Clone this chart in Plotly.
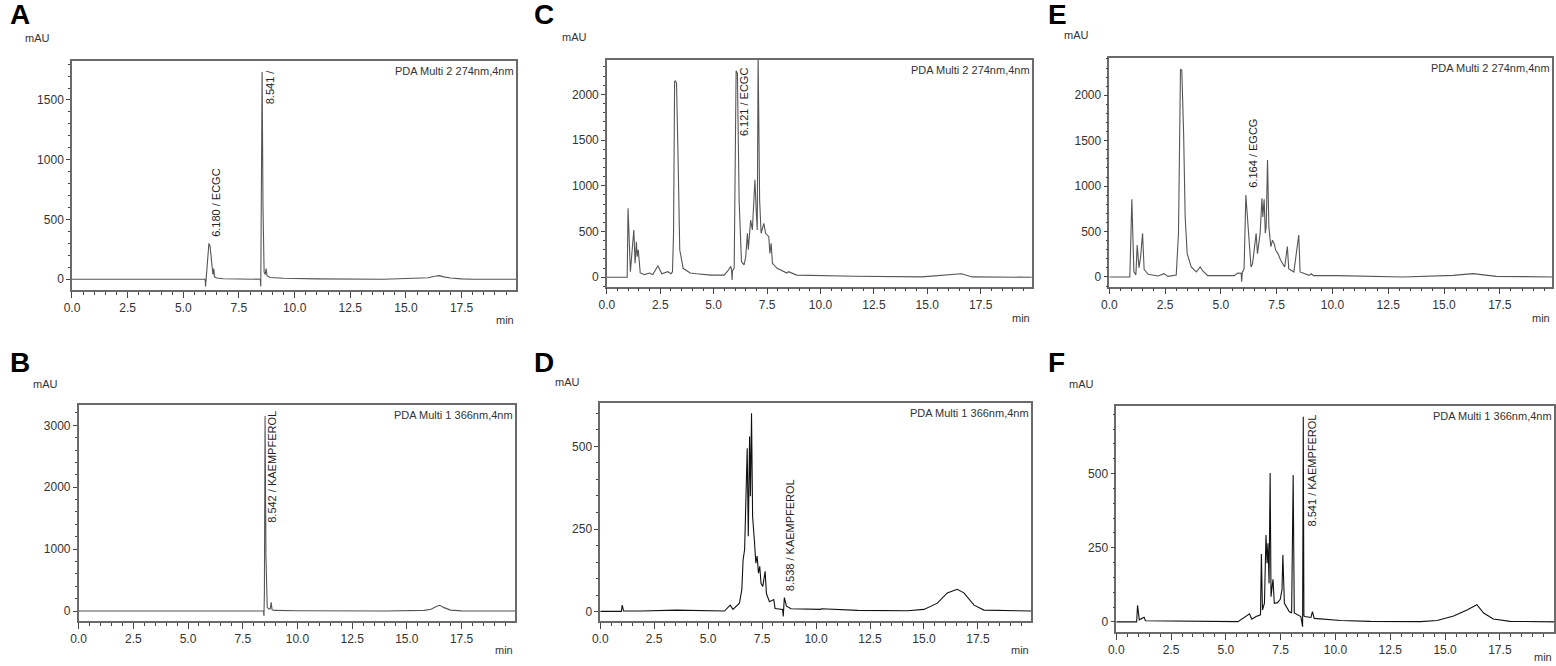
import plotly.graph_objects as go

# ── Chromatogram data (retention time in min, absorbance in mAU) ─────────────

A_TIME = [0, 0.9, 1.0, 1.1, 1.2, 1.3, 5.9, 5.98, 6.0, 6.02,
          6.08, 6.15, 6.2, 6.27, 6.33, 6.37, 6.4, 6.5, 6.8, 7.5,
          8.4, 8.46, 8.48, 8.5, 8.54, 8.58, 8.63, 8.68, 8.72, 8.76,
          8.9, 9.5, 11, 14, 15.5, 16.0, 16.3, 16.5, 16.7, 17.0,
          17.5, 18, 20]
A_MAU = [0, 0, 4, -2, 3, 0, 0, 0, -60, 0,
         120, 300, 280, 150, 40, 90, 20, 10, 4, 2,
         0, 0, -60, 600, 1735, 600, 60, 40, 90, 30,
         15, 8, 3, 0, 5, 12, 25, 30, 20, 10,
         3, 0, 0]

B_TIME = [0, 1.0, 1.1, 1.2, 8.3, 8.45, 8.47, 8.49, 8.52, 8.56,
          8.62, 8.7, 8.76, 8.8, 8.84, 8.95, 10, 14, 15.8, 16.1,
          16.35, 16.5, 16.7, 17.0, 17.5, 20]
B_MAU = [0, 0, 6, 0, 0, 0, -80, 300, 3150, 900,
         60, 30, 40, 140, 20, 10, 5, 0, 10, 30,
         75, 92, 55, 15, 2, 0]

C_TIME = [0, 0.95, 0.99, 1.1, 1.26, 1.32, 1.38, 1.42, 1.47, 1.56,
          1.76, 1.99, 2.15, 2.39, 2.57, 2.85, 3.0, 3.07, 3.12, 3.17,
          3.21, 3.26, 3.34, 3.41, 3.57, 3.9, 4.2, 4.87, 5.49, 5.68,
          5.8, 5.84, 5.86, 5.88, 5.96, 6.05, 6.11, 6.19, 6.3, 6.42,
          6.5, 6.58, 6.62, 6.73, 6.81, 6.89, 6.93, 6.99, 7.04, 7.08,
          7.15, 7.22, 7.35, 7.43, 7.58, 7.63, 7.69, 7.75, 7.97, 8.43,
          8.5, 8.89, 10.13, 11.63, 14.74, 15.5, 16.35, 16.6, 17.1, 20]
C_MAU = [0, 0, 754, 61, 517, 153, 389, 224, 301, 47,
         29, 47, 29, 127, 38, 61, 38, 61, 481, 2138,
         2150, 2120, 1210, 301, 98, 47, 38, 24, 24, 75,
         120, 70, -30, 70, 100, 2258, 2228, 845, 171, 135,
         224, 481, 301, 626, 517, 955, 1065, 736, 517, 2420,
         845, 481, 590, 481, 444, 262, 371, 153, 98, 47,
         61, 24, 18, 11, 4, 18, 38, 38, 4, 0]

D_TIME = [0, 0.98, 1.02, 1.08, 1.91, 3.53, 5.76, 6.02, 6.15, 6.45,
          6.56, 6.62, 6.69, 6.75, 6.81, 6.86, 6.92, 6.96, 7.01, 7.06,
          7.1, 7.15, 7.21, 7.27, 7.33, 7.39, 7.45, 7.53, 7.64, 7.7,
          7.84, 8.04, 8.1, 8.45, 8.48, 8.53, 8.63, 8.84, 10.2, 10.25,
          11.92, 14.23, 15.0, 15.62, 16.08, 16.54, 16.85, 17.32, 17.78, 20]
D_MAU = [1, 1, 20, 2, 2, 5, 2, 20, 7, 26,
         67, 157, 188, 369, 494, 228, 530, 349, 600, 288,
         258, 208, 147, 168, 117, 137, 86, 76, 122, 55,
         30, 37, 10, 7, -14, 43, 17, 9, 7, 9,
         4, 3, 7, 26, 57, 68, 57, 20, 5, 2]

E_TIME = [0, 0.92, 1.01, 1.1, 1.19, 1.25, 1.33, 1.4, 1.49, 1.56,
          1.74, 2.19, 2.45, 2.63, 3.0, 3.1, 3.19, 3.25, 3.33, 3.4,
          3.49, 3.67, 3.9, 4.07, 4.19, 4.41, 5.6, 5.75, 5.91, 5.93,
          5.96, 6.04, 6.12, 6.23, 6.35, 6.42, 6.52, 6.58, 6.64, 6.76,
          6.84, 6.88, 6.94, 6.99, 7.03, 7.09, 7.15, 7.24, 7.31, 7.39,
          7.46, 7.56, 7.68, 7.86, 7.98, 8.04, 8.27, 8.49, 8.55, 8.72,
          8.95, 9.05, 9.15, 10.2, 13.18, 15.41, 16.3, 17.34, 20]
E_MAU = [0, 0, 855, 59, 22, 352, 103, 213, 481, 84,
         29, 11, 37, 7, 22, 481, 2287, 2272, 1578, 661,
         257, 110, 55, 110, 66, 15, 15, 44, 40, -51,
         50, 90, 903, 481, 110, 147, 404, 481, 257, 481,
         866, 661, 855, 481, 554, 1288, 554, 334, 404, 367,
         294, 257, 184, 110, 334, 92, 55, 462, 55, 37,
         18, 35, 15, 15, 0, 18, 37, 7, 0]

F_TIME = [0, 0.93, 0.97, 1.05, 1.27, 1.33, 5.55, 5.93, 6.08, 6.18,
          6.38, 6.58, 6.62, 6.67, 6.76, 6.83, 6.88, 6.92, 6.97, 7.02,
          7.06, 7.11, 7.15, 7.21, 7.36, 7.48, 7.56, 7.6, 7.67, 7.89,
          8.0, 8.07, 8.12, 8.42, 8.5, 8.53, 8.56, 8.6, 8.88, 8.95,
          9.03, 10.24, 11.6, 13.88, 14.64, 15.39, 16.0, 16.45, 16.76, 17.2,
          17.97, 20.2]
F_MAU = [0, 0, 56, 7, 16, 4, 1, 18, 27, 9,
         18, 24, 229, 40, 63, 293, 198, 265, 130, 502,
         85, 119, 144, 63, 65, 76, 108, 226, 63, 35,
         30, 495, 30, 18, -16, 692, 20, 18, 15, 35,
         12, 5, 2, 1, 5, 20, 40, 58, 30, 10,
         2, 0]

# peak labels: (retention time, mAU, text)
A_PEAKS = [(6.49, 643, "6.180 / ECGC"), (8.88, 1612, "8.541 /")]
B_PEAKS = [(8.84, 2331, "8.542 / KAEMPFEROL")]
C_PEAKS = [(6.39, 1919, "6.121 / ECGC")]
D_PEAKS = [(8.80, 232, "8.538 / KAEMPFEROL")]
E_PEAKS = [(6.46, 1362, "6.164 / EGCG")]
F_PEAKS = [(8.92, 510, "8.541 / KAEMPFEROL")]

CH_274 = "PDA Multi 2 274nm,4nm"
CH_366 = "PDA Multi 1 366nm,4nm"

# ── Layout helpers ───────────────────────────────────────────────────────────

W, H = 1556, 666
NARROW = "Liberation Sans Narrow, Arial Narrow, Liberation Sans, sans-serif"
PLAIN = "Liberation Sans, Arial, sans-serif"

PANELS = [
    dict(key="A", t=A_TIME, v=A_MAU, peaks=A_PEAKS, ch=CH_274,
         box=(64.3, 61, 511, 290), xr=(0, 19.96), yr=(-90, 1826),
         ydt=500, ymin=100, color="#555555",
         letter=(0, 15), mau=(30, 38), minpos=(511, 320)),
    dict(key="B", t=B_TIME, v=B_MAU, peaks=B_PEAKS, ch=CH_366,
         box=(71, 404.7, 510, 621), xr=(0, 19.96), yr=(-161, 3333),
         ydt=1000, ymin=200, color="#555555",
         letter=(0, 362), mau=(38, 384), minpos=(510, 650)),
    dict(key="C", t=C_TIME, v=C_MAU, peaks=C_PEAKS, ch=CH_274,
         box=(602, 60, 1029, 286.7), xr=(0, 19.89), yr=(-103, 2375),
         ydt=500, ymin=100, color="#555555",
         letter=(527, 15), mau=(569, 37), minpos=(1029, 318)),
    dict(key="D", t=D_TIME, v=D_MAU, peaks=D_PEAKS, ch=CH_366,
         box=(595.3, 403.3, 1028.3, 621), xr=(0, 19.96), yr=(-28, 630),
         ydt=250, ymin=50, color="#111111",
         letter=(527, 362), mau=(562, 382), minpos=(1028, 650)),
    dict(key="E", t=E_TIME, v=E_MAU, peaks=E_PEAKS, ch=CH_274,
         box=(1107, 58.3, 1552, 286.7), xr=(0, 19.84), yr=(-107, 2407),
         ydt=500, ymin=100, color="#555555",
         letter=(1043, 15), mau=(1074, 35), minpos=(1552, 318)),
    dict(key="F", t=F_TIME, v=F_MAU, peaks=F_PEAKS, ch=CH_366,
         box=(1114, 406, 1554, 632.3), xr=(0, 19.97), yr=(-35, 728),
         ydt=250, ymin=50, color="#111111",
         letter=(1043, 362), mau=(1079, 384), minpos=(1554, 657)),
]


def px_x(x):
    return x / W


def px_y(y):
    return 1 - y / H


fig = go.Figure()
annotations = []
layout = {}

for i, p in enumerate(PANELS, start=1):
    sfx = "" if i == 1 else str(i)
    xname, yname = "x" + sfx, "y" + sfx
    left, top, right, bottom = p["box"]

    fig.add_trace(go.Scatter(
        x=p["t"], y=p["v"], mode="lines",
        line=dict(color=p["color"], width=1.1),
        xaxis=xname, yaxis=yname, hoverinfo="skip",
    ))

    axis_common = dict(
        showline=True, linecolor="#6a6a6a", linewidth=1.5, mirror=True,
        showgrid=False, zeroline=False, ticks="outside",
        tickcolor="#444", tickwidth=1,
        tickfont=dict(family=NARROW, size=12, color="#333"),
    )
    layout["xaxis" + sfx] = dict(
        axis_common, domain=[px_x(left), px_x(right)], anchor=yname,
        range=list(p["xr"]), tick0=0, dtick=2.5, tickformat=".1f", ticklen=6,
        minor=dict(ticks="outside", dtick=0.5, ticklen=3, tickcolor="#444"),
    )
    layout["yaxis" + sfx] = dict(
        axis_common, domain=[px_y(bottom), px_y(top)], anchor=xname,
        range=list(p["yr"]), tick0=0, dtick=p["ydt"], ticklen=4,
        minor=dict(ticks="outside", dtick=p["ymin"], ticklen=2, tickcolor="#444"),
    )

    # channel label, top right inside the frame
    annotations.append(dict(
        text=p["ch"], xref=xname + " domain", yref=yname + " domain",
        x=1, y=1, xanchor="right", yanchor="top", yshift=-2, showarrow=False,
        font=dict(family=NARROW, size=11, color="#333"),
    ))
    # rotated peak labels
    for t, v, txt in p["peaks"]:
        annotations.append(dict(
            text=txt, xref=xname, yref=yname, x=t, y=v,
            xanchor="center", yanchor="middle", textangle=-90, showarrow=False,
            font=dict(family=PLAIN, size=11, color="#222"),
        ))
    # panel letter
    lx, ly = p["letter"]
    annotations.append(dict(
        text="<b>%s</b>" % p["key"], xref="paper", yref="paper",
        x=px_x(lx), y=px_y(ly), xanchor="left", yanchor="middle",
        showarrow=False, font=dict(family=PLAIN, size=28, color="#000"),
    ))
    # axis unit labels
    mx, my = p["mau"]
    annotations.append(dict(
        text="mAU", xref="paper", yref="paper", x=px_x(mx), y=px_y(my),
        xanchor="center", yanchor="middle", showarrow=False,
        font=dict(family=NARROW, size=11, color="#333"),
    ))
    nx, ny = p["minpos"]
    annotations.append(dict(
        text="min", xref="paper", yref="paper", x=px_x(nx), y=px_y(ny),
        xanchor="right", yanchor="middle", showarrow=False,
        font=dict(family=NARROW, size=11, color="#333"),
    ))

fig.update_layout(
    width=W, height=H,
    margin=dict(l=0, r=0, t=0, b=0),
    paper_bgcolor="white", plot_bgcolor="white",
    showlegend=False,
    annotations=annotations,
    **layout,
)

# body margin would push the fixed-size figure past the window edges
fig.write_html("out.html", config={"displayModeBar": False},
               post_script="document.body.style.margin='0';")
